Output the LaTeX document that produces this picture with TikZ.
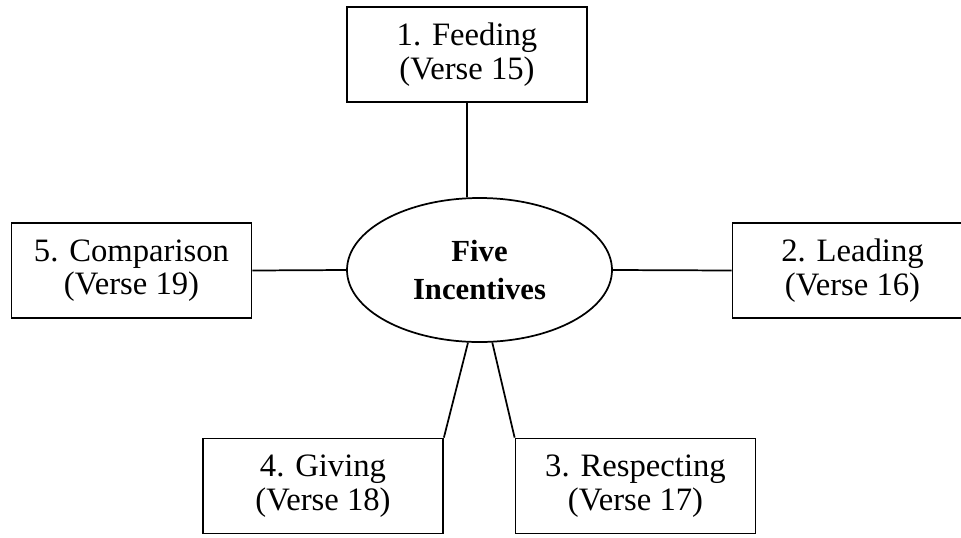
\documentclass[tikz,border=0pt]{standalone}
\usepackage{fontspec}
\setmainfont{Liberation Serif}
\usetikzlibrary{shapes.geometric}

\tikzset{
  versebox/.style={draw, line width=1.3pt, minimum width=180pt, minimum height=71.25pt,
    inner sep=0pt, align=center, font=\fontsize{24.5}{25}\selectfont},
  hub/.style={draw, ellipse, line width=1.3pt, minimum width=198.75pt, minimum height=108pt,
    inner sep=0pt, align=center, font=\fontsize{23}{28.5}\selectfont\bfseries},
  link/.style={line width=1.3pt}
}

\begin{document}
\begin{tikzpicture}[x=0.75pt,y=-0.75pt]
  \useasboundingbox (0,0) rectangle (961,537);
  \clip (0,0) rectangle (961,537);

  % centre
  \node[hub] (ell) at (479.5,270) {Five\\Incentives};

  % the five boxes
  \node[versebox] (feed) at (467,54.5) {1. Feeding\\(Verse 15)};
  \node[versebox] (lead) at (852.5,270.5) {2. Leading\\(Verse 16)};
  \node[versebox] (resp) at (635.5,486) {3. Respecting\\(Verse 17)};
  \node[versebox] (give) at (323,486) {4. Giving\\(Verse 18)};
  \node[versebox] (comp) at (131.5,270.5) {5. Comparison\\(Verse 19)};

  % connectors
  \draw[link] (feed.south) -- (feed.south |- ell.north);
  \draw[link] (ell.east) -- (lead.west);
  \draw[link] (ell.280) -- (resp.north west);
  \draw[link] (ell.261) -- (give.north east);
  \draw[link] (comp.east) -- (ell.west);
\end{tikzpicture}
\end{document}
